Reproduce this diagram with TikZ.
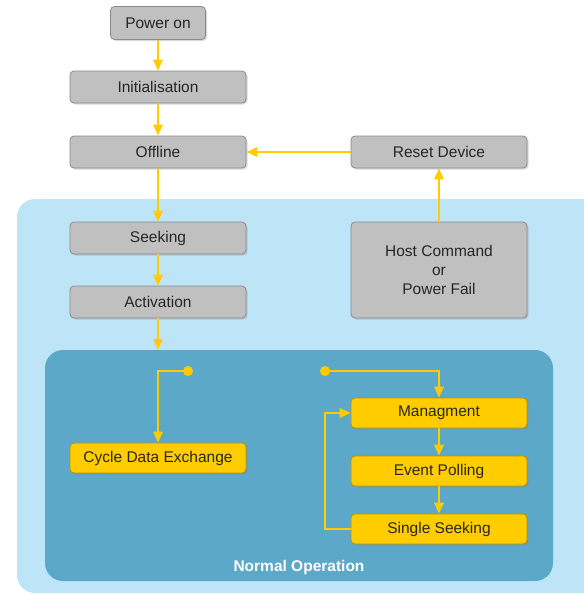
\documentclass[tikz,border=0pt]{standalone}
\usepackage{fontspec}
\setmainfont{Liberation Sans}
\usepackage{tikz}
\usetikzlibrary{arrows.meta,shadows}
\definecolor{boxgray}{HTML}{C0C0C0}
\definecolor{boxedge}{HTML}{8A8A8A}
\definecolor{opyellow}{HTML}{FFCC00}
\definecolor{opedge}{HTML}{B89400}
\definecolor{outerblue}{HTML}{BEE4F8}
\definecolor{innerblue}{HTML}{5CA8C8}
\tikzset{
  statebox/.style={draw=boxedge, fill=boxgray, rounded corners=4pt, line width=0.8pt,
    minimum width=176pt, minimum height=32pt, text=black!85,
    font=\fontsize{15.5}{19}\selectfont,
    drop shadow={shadow xshift=1.5pt, shadow yshift=-1.5pt, opacity=0.3}},
  opbox/.style={statebox, fill=opyellow, draw=opedge, minimum height=30pt},
  flow/.style={draw=opyellow, line width=2pt, -{Triangle[length=11pt,width=9.5pt]}},
  dot/.style={circle, fill=opyellow, inner sep=0pt, minimum size=10pt},
}

\begin{document}
\begin{tikzpicture}[x=1pt,y=-1pt]
   \useasboundingbox (0,0) rectangle (584,595);
   % areas
   \begin{scope}
     \clip (0,0) rectangle (584,595);
     \fill[outerblue, rounded corners=18pt] (17,199) rectangle (600,593);
   \end{scope}
   \fill[innerblue, rounded corners=18pt] (45,350) rectangle (553,581);
   % states
   \node[statebox, minimum width=95pt, minimum height=33pt] (power) at (158,23) {Power on};
   \node[statebox] (init) at (158,87) {Initialisation};
   \node[statebox] (offline) at (158,152) {Offline};
   \node[statebox] (reset) at (439,152) {Reset Device};
   \node[statebox] (seeking) at (158,238) {Seeking};
   \node[statebox] (activation) at (158,302) {Activation};
   \node[statebox, minimum height=96pt, align=center] (host) at (439,270) {Host Command\\or\\Power Fail};
   \node[opbox] (cycle) at (158,458) {Cycle Data Exchange};
   \node[opbox] (manage) at (439,413) {Managment};
   \node[opbox] (polling) at (439,471) {Event Polling};
   \node[opbox] (single) at (439,529) {Single Seeking};
   \node[text=white, font=\fontsize{15.5}{17}\selectfont\bfseries] (normal) at (299,567) {Normal Operation};
   \coordinate (normaltop) at (158,350);
   \node[dot] (cycledot) at (188,371) {};
   \node[dot] (managedot) at (325,371) {};
   % transitions
   \draw[flow] (power) -- (init);
   \draw[flow] (init) -- (offline);
   \draw[flow] (offline) -- (seeking);
   \draw[flow] (seeking) -- (activation);
   \draw[flow] (activation) -- (normaltop);
   \draw[flow] (host) -- (reset);
   \draw[flow] (reset) -- (offline);
   \draw[flow] (cycledot.center) -| (cycle);
   \draw[flow] (managedot.center) -| (manage);
   \draw[flow] (manage) -- (polling);
   \draw[flow] (polling) -- (single);
   \draw[flow] (single.west) -- ++(-26,0) |- (manage.west);
\end{tikzpicture}
\end{document}
